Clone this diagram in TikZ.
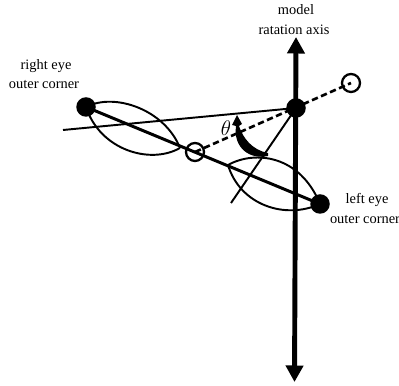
\documentclass[tikz,border=0pt]{standalone}
\usepackage{amsmath, amssymb}
\usepackage{fontspec}
\setmainfont{Liberation Serif}
\usepackage{tikz}
\usetikzlibrary{arrows.meta}

\tikzset{
    eyedot/.style={circle, fill=black, inner sep=0pt, minimum size=0.39cm},
    ring/.style={circle, draw, line width=1.3pt, inner sep=0pt, minimum size=0.36cm},
    lbl/.style={font=\fontsize{8.2}{10}\selectfont, inner sep=0pt},
    thinline/.style={line width=1.1pt},
}

\begin{document}
\begin{tikzpicture}[>={Triangle[width=0.34cm, length=0.33cm]}]
    \useasboundingbox (0,0) rectangle (7.98,7.72);
    % Các điểm chính
    \coordinate (axistop) at (5.92,6.98);
    \coordinate (axisbottom) at (5.89,0.08);
    \coordinate (lineleft) at (1.26,5.12);
    \coordinate (linelow) at (4.62,3.66);
    \node[eyedot] (righteye) at (1.72,5.58) {};
    \node[eyedot] (lefteye) at (6.40,3.64) {};
    \node[eyedot] (axisdot) at (5.92,5.56) {};
    \node[ring] (topring) at (7.02,6.06) {};
    \node[ring] (midring) at (3.90,4.68) {};
    % Trục quay
    \draw[<->, line width=2.8pt] (axistop) -- (axisbottom);
    % Đường mảnh
    \draw[thinline] (lineleft) -- (axisdot.center);
    \draw[thinline] (linelow) -- (axisdot.center);
    % Đường đứt
    \draw[line width=1.5pt, dash pattern=on 3.6pt off 2pt] (midring.center) -- (topring.center);
    % Nối hai đuôi mắt
    \draw[line width=1.7pt] (righteye.center) -- (lefteye.center);
    % Mắt phải
    \draw[thinline] (righteye.center) .. controls (2.30,5.88) and (3.30,5.52) .. (3.60,4.76);
    \draw[thinline] (righteye.center) .. controls (2.00,4.72) and (3.00,4.42) .. (3.60,4.76);
    % Mắt trái
    \draw[thinline] (4.56,4.42) .. controls (5.10,4.72) and (6.00,4.62) .. (lefteye.center);
    \draw[thinline] (4.56,4.42) .. controls (4.80,3.62) and (5.70,3.32) .. (lefteye.center);
    % Mũi tên góc
    \fill (5.36,4.60) .. controls (5.00,4.52) and (4.66,4.76) .. (4.72,5.20)
        -- (4.64,5.22) -- (4.74,5.42) -- (4.84,5.24) -- (4.78,5.20)
        .. controls (4.86,4.96) and (5.04,4.72) .. (5.36,4.66) -- cycle;
    \node[lbl, font=\fontsize{12}{14}\selectfont] (thetalbl) at (4.52,5.16) {$\theta$};
    % Nhãn
    \node[lbl] (modellbl) at (5.92,7.52) {model};
    \node[lbl] (axislbl) at (5.88,7.12) {ratation axis};
    \node[lbl] (rightlbl) at (0.92,6.40) {right eye};
    \node[lbl] (rightlblb) at (0.88,6.02) {outer corner};
    \node[lbl] (leftlbl) at (7.34,3.72) {left eye};
    \node[lbl] (leftlblb) at (7.30,3.32) {outer corner};
\end{tikzpicture}
\end{document}
